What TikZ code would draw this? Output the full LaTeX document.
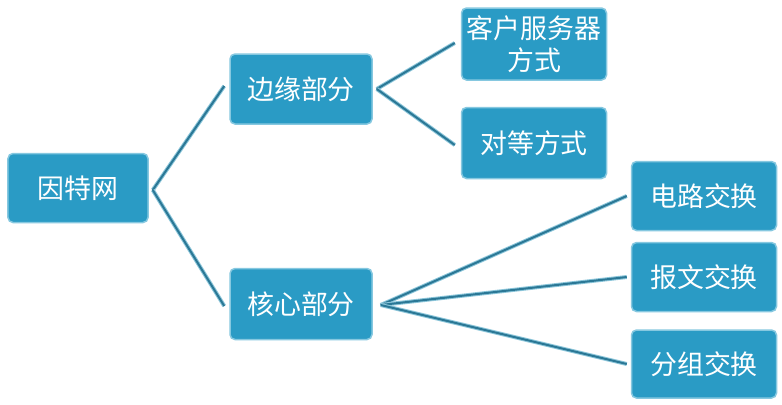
\documentclass[tikz,border=0pt]{standalone}
\usepackage{fontspec}
\newfontfamily\cjk{Noto Sans CJK SC}
\definecolor{boxfill}{HTML}{2A9BC5}
\definecolor{boxedge}{HTML}{86C8E0}
\definecolor{linedark}{HTML}{2B7896}
\definecolor{lineedge}{HTML}{8CC6DA}
\begin{document}
\begin{tikzpicture}[x=1bp,y=-1bp,
  box/.style={draw=boxedge, line width=1.5bp, fill=boxfill, rounded corners=5bp,
    text=white, font=\cjk\fontsize{27}{32}\selectfont, align=center,
    minimum width=#1, inner sep=0pt},
  box/.default=142bp,
  conn/.style={draw=lineedge, line width=4bp, postaction={draw=linedark, line width=2bp}}]
\useasboundingbox (0,0) rectangle (782,404);
\fill[white] (0,0) rectangle (782,404);
\node[box=140bp, minimum height=69bp] (net) at (78,188) {因特网};
\node[box, minimum height=70bp] (edge) at (301,89) {边缘部分};
\node[box, minimum height=71bp] (core) at (301,304) {核心部分};
\node[box=145bp, minimum height=72bp] (cs) at (534,44) {客户服务器\\方式};
\node[box=145bp, minimum height=71bp] (p2p) at (534,143) {对等方式};
\node[box=145bp, minimum height=69bp] (circ) at (704,196) {电路交换};
\node[box=145bp, minimum height=69bp] (msg) at (704,277) {报文交换};
\node[box=145bp, minimum height=68bp] (pkt) at (704,364) {分组交换};
\coordinate (netR) at ([xshift=4bp,yshift=-2bp]net.east);
\coordinate (edgeR) at ([xshift=4bp]edge.east);
\coordinate (coreR) at ([xshift=8bp,yshift=-1bp]core.east);
\draw[conn] (netR) -- ([xshift=-5bp,yshift=3bp]edge.west);
\draw[conn] (netR) -- ([xshift=-5bp,yshift=-2bp]core.west);
\draw[conn] (edgeR) -- ([xshift=-6bp,yshift=1bp]cs.west);
\draw[conn] (edgeR) -- ([xshift=-6bp,yshift=-2bp]p2p.west);
\draw[conn] (coreR) -- ([xshift=-4bp]circ.west);
\draw[conn] (coreR) -- ([xshift=-4bp]msg.west);
\draw[conn] (coreR) -- ([xshift=-4bp]pkt.west);
\end{tikzpicture}
\end{document}
